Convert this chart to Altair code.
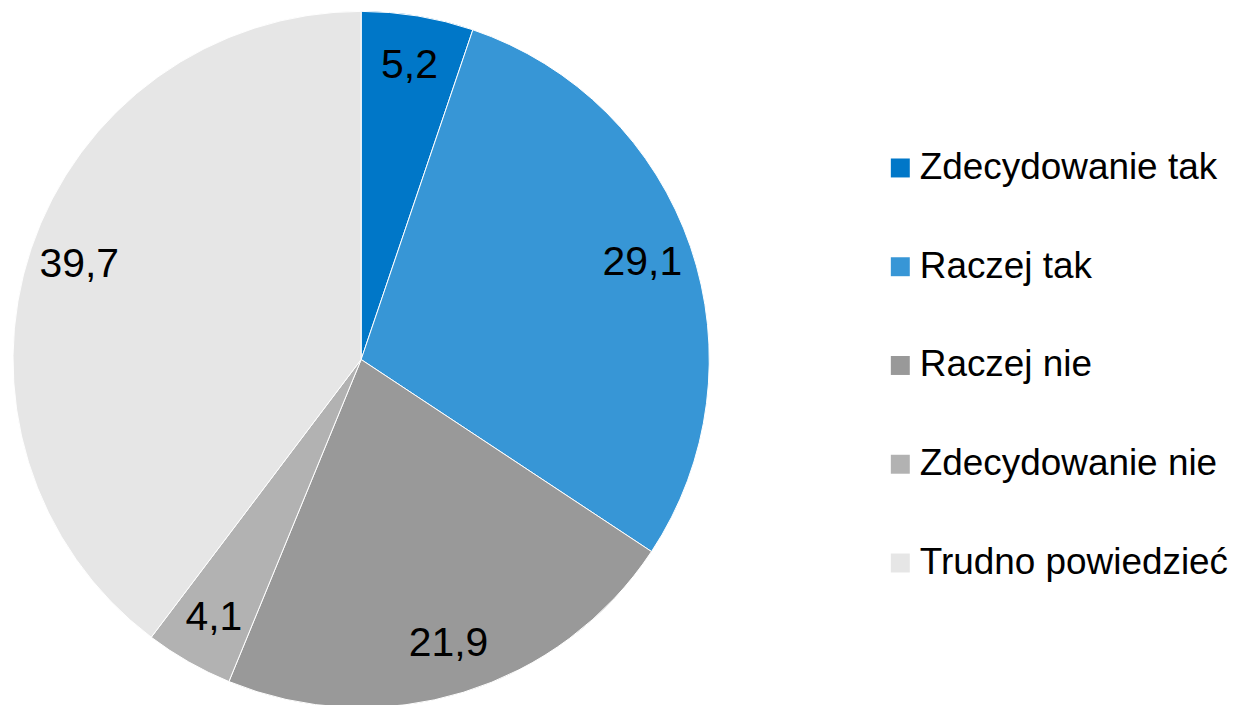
import altair as alt
import pandas as pd

categories = ["Zdecydowanie tak", "Raczej tak", "Raczej nie", "Zdecydowanie nie", "Trudno powiedzieć"]
values = [5.2, 29.1, 21.9, 4.1, 39.7]
labels = ["5,2", "29,1", "21,9", "4,1", "39,7"]
colors = ["#0077C8", "#3796D6", "#999999", "#B2B2B2", "#E6E6E6"]

df = pd.DataFrame({"cat": categories, "val": values, "lab": labels, "ord": list(range(len(values)))})

base = alt.Chart(df).encode(
    theta=alt.Theta("val:Q", stack=True),
    order=alt.Order("ord:Q"),
)

pie = base.mark_arc(outerRadius=349, stroke="white", strokeWidth=1).encode(
    color=alt.Color(
        "cat:N",
        scale=alt.Scale(domain=categories, range=colors),
        sort=categories,
        legend=alt.Legend(
            title=None,
            orient="none",
            legendX=876,
            legendY=138,
            labelFontSize=37,
            labelFont="Liberation Sans",
            labelColor="black",
            symbolType="square",
            symbolSize=361,
            symbolStrokeWidth=0,
            rowPadding=61,
            labelOffset=1,
            labelLimit=400,
        ),
    )
)

text = base.mark_text(radius=298, fontSize=41, font="Liberation Sans", color="black").encode(
    text="lab:N"
)

chart = (pie + text).properties(width=708, height=697, padding=0).configure_view(stroke=None)

chart.save("out.html", embed_options={"renderer": "svg", "actions": False})
